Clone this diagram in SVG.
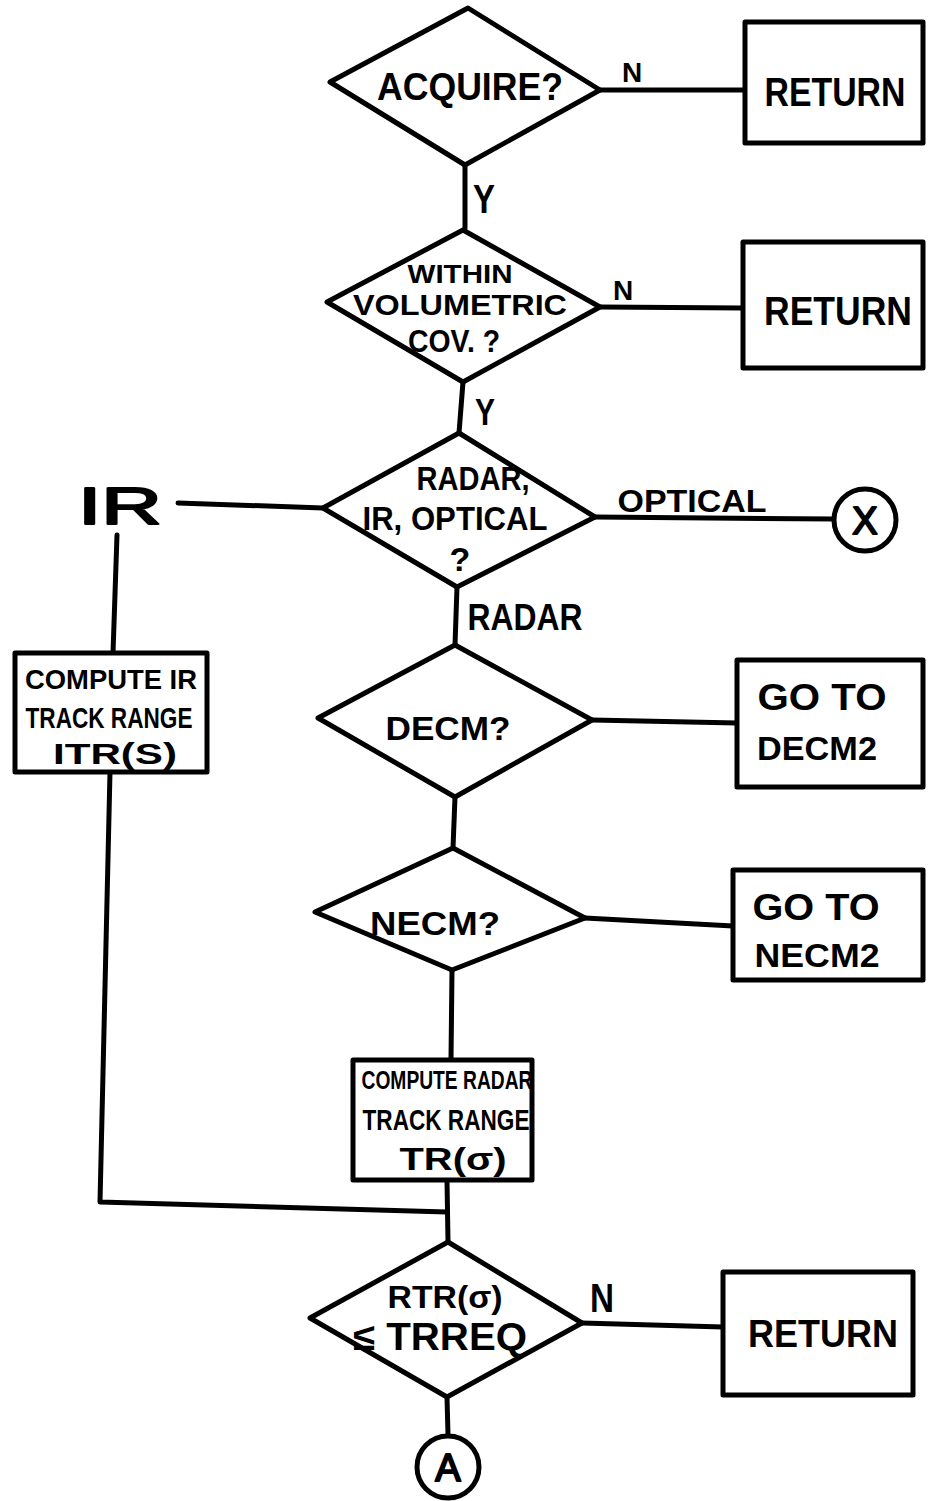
<svg xmlns="http://www.w3.org/2000/svg" width="929" height="1501" viewBox="0 0 929 1501">
  <style>
    .shape { fill: #fff; stroke: #000; stroke-width: 5; stroke-linejoin: round; }
    .wire { fill: none; stroke: #000; stroke-width: 5; stroke-linecap: round; stroke-linejoin: round; }
    text { font-family: "Liberation Sans", "DejaVu Sans", sans-serif; font-weight: 700; fill: #000; text-anchor: middle; }
    text.thin { font-weight: 400; stroke: #000; stroke-width: 2; stroke-linejoin: round; }
  </style>
  <rect width="929" height="1501" fill="#fff"/>

  <g id="connectors">
    <polyline class="wire" points="465,165 465,228"/>
    <polyline class="wire" points="600,90 745,90"/>
    <polyline class="wire" points="600,307 743,308"/>
    <polyline class="wire" points="463,382 459,433"/>
    <polyline class="wire" points="178,503 323,508"/>
    <polyline class="wire" points="595,517 833,519"/>
    <polyline class="wire" points="117,535 113,653"/>
    <polyline class="wire" points="110,772 100,1202 447,1212"/>
    <polyline class="wire" points="457,587 455,645"/>
    <polyline class="wire" points="592,720 737,723"/>
    <polyline class="wire" points="455,797 453,848"/>
    <polyline class="wire" points="585,918 733,926"/>
    <polyline class="wire" points="452,970 451,1060"/>
    <polyline class="wire" points="447,1180 448,1242"/>
    <polyline class="wire" points="582,1323 723,1327"/>
    <polyline class="wire" points="447,1397 448,1435"/>
    <text x="632" y="82" font-size="28">N</text>
    <text x="484" y="213" font-size="40" textLength="22" lengthAdjust="spacingAndGlyphs">Y</text>
    <text x="623" y="300" font-size="28">N</text>
    <text x="485" y="425" font-size="36" textLength="20" lengthAdjust="spacingAndGlyphs">Y</text>
    <text class="thin" x="120" y="524" font-size="52" textLength="84" lengthAdjust="spacingAndGlyphs">IR</text>
    <text x="692" y="512" font-size="32" textLength="149" lengthAdjust="spacingAndGlyphs">OPTICAL</text>
    <text x="525" y="630" font-size="36" textLength="115" lengthAdjust="spacingAndGlyphs">RADAR</text>
    <text x="602" y="1312" font-size="40" textLength="24" lengthAdjust="spacingAndGlyphs">N</text>
  </g>

  <g id="acquire">
    <polygon class="shape" points="468,8 600,90 465,165 330,82"/>
    <text x="470" y="100" font-size="38" textLength="186" lengthAdjust="spacingAndGlyphs">ACQUIRE?</text>
  </g>

  <g id="return-1">
    <rect class="shape" x="745" y="22" width="178" height="121"/>
    <text x="835" y="106" font-size="40" textLength="141" lengthAdjust="spacingAndGlyphs">RETURN</text>
  </g>

  <g id="volumetric">
    <polygon class="shape" points="463,230 600,307 463,382 327,302"/>
    <text x="460" y="283" font-size="26" textLength="105" lengthAdjust="spacingAndGlyphs">WITHIN</text>
    <text x="460" y="315" font-size="30" textLength="214" lengthAdjust="spacingAndGlyphs">VOLUMETRIC</text>
    <text x="454" y="352" font-size="32" textLength="92" lengthAdjust="spacingAndGlyphs">COV. ?</text>
  </g>

  <g id="return-2">
    <rect class="shape" x="743" y="242" width="180" height="126"/>
    <text x="838" y="325" font-size="40" textLength="148" lengthAdjust="spacingAndGlyphs">RETURN</text>
  </g>

  <g id="sensor">
    <polygon class="shape" points="459,433 595,517 457,587 323,508"/>
    <text x="473" y="490" font-size="34" textLength="113" lengthAdjust="spacingAndGlyphs">RADAR,</text>
    <text x="455" y="530" font-size="34" textLength="185" lengthAdjust="spacingAndGlyphs">IR, OPTICAL</text>
    <text x="460" y="571" font-size="34">?</text>
  </g>

  <g id="connector-x">
    <circle class="shape" cx="865" cy="520" r="31"/>
    <text class="thin" x="865" y="534" font-size="38">X</text>
  </g>

  <g id="compute-ir">
    <rect class="shape" x="15" y="653" width="192" height="119"/>
    <text x="111" y="689" font-size="28" textLength="172" lengthAdjust="spacingAndGlyphs">COMPUTE IR</text>
    <text x="109" y="728" font-size="30" textLength="167" lengthAdjust="spacingAndGlyphs">TRACK RANGE</text>
    <text x="115" y="764" font-size="30" textLength="124" lengthAdjust="spacingAndGlyphs">ITR(S)</text>
  </g>

  <g id="decm">
    <polygon class="shape" points="455,645 592,720 455,797 318,718"/>
    <text x="448" y="740" font-size="34" textLength="125" lengthAdjust="spacingAndGlyphs">DECM?</text>
  </g>

  <g id="goto-decm2">
    <rect class="shape" x="737" y="660" width="186" height="127"/>
    <text x="822" y="710" font-size="36" textLength="129" lengthAdjust="spacingAndGlyphs">GO TO</text>
    <text x="817" y="760" font-size="34" textLength="120" lengthAdjust="spacingAndGlyphs">DECM2</text>
  </g>

  <g id="necm">
    <polygon class="shape" points="453,848 585,918 452,970 315,912"/>
    <text x="435" y="935" font-size="34" textLength="130" lengthAdjust="spacingAndGlyphs">NECM?</text>
  </g>

  <g id="goto-necm2">
    <rect class="shape" x="733" y="870" width="190" height="110"/>
    <text x="816" y="920" font-size="36" textLength="127" lengthAdjust="spacingAndGlyphs">GO TO</text>
    <text x="817" y="967" font-size="34" textLength="125" lengthAdjust="spacingAndGlyphs">NECM2</text>
  </g>

  <g id="compute-radar">
    <rect class="shape" x="353" y="1060" width="179" height="120"/>
    <text x="447" y="1089" font-size="26" textLength="171" lengthAdjust="spacingAndGlyphs">COMPUTE RADAR</text>
    <text x="446" y="1130" font-size="30" textLength="167" lengthAdjust="spacingAndGlyphs">TRACK RANGE</text>
    <text x="453" y="1170" font-size="32" textLength="107" lengthAdjust="spacingAndGlyphs">TR(σ)</text>
  </g>

  <g id="range-check">
    <polygon class="shape" points="448,1242 582,1323 447,1397 310,1318"/>
    <text x="445" y="1308" font-size="32" textLength="115" lengthAdjust="spacingAndGlyphs">RTR(σ)</text>
    <text x="440" y="1350" font-size="38" textLength="174" lengthAdjust="spacingAndGlyphs">≤ TRREQ</text>
  </g>

  <g id="return-3">
    <rect class="shape" x="723" y="1272" width="190" height="123"/>
    <text x="823" y="1347" font-size="38" textLength="150" lengthAdjust="spacingAndGlyphs">RETURN</text>
  </g>

  <g id="connector-a">
    <circle class="shape" cx="448" cy="1467" r="31"/>
    <text class="thin" x="448" y="1481" font-size="38">A</text>
  </g>
</svg>
